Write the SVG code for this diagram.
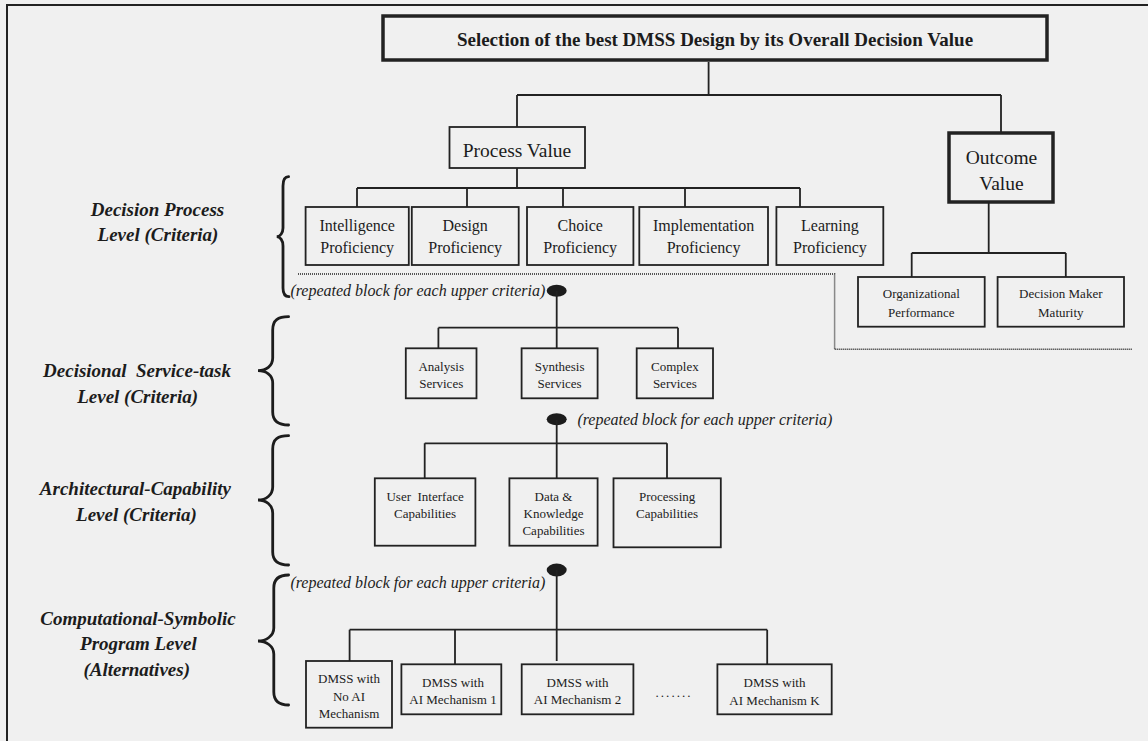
<svg xmlns="http://www.w3.org/2000/svg" width="1148" height="741" viewBox="0 0 1148 741">
  <style>
    .bg { fill: #f0f0f0; }
    .frame { fill: none; stroke: #222; stroke-width: 2; }
    .box { fill: none; stroke: #222; stroke-width: 1.8; }
    .heavy { fill: none; stroke: #222; stroke-width: 3.5; }
    .conn { fill: none; stroke: #222; stroke-width: 1.8; }
    .dots { fill: none; stroke: #222; stroke-width: 1.5; stroke-dasharray: 1 1; }
    .brace { fill: none; stroke: #1c1c1c; stroke-width: 2.8; stroke-linecap: round; }
    .dot { fill: #1c1c1c; }
    text { font-family: "Liberation Serif", "Times New Roman", serif; fill: #1c1c1c; text-anchor: middle; }
    .title { font-size: 19px; font-weight: bold; }
    .big { font-size: 19.5px; }
    .mid { font-size: 16px; }
    .small { font-size: 13px; }
    .level { font-size: 19px; font-weight: bold; font-style: italic; }
    .note { font-size: 16px; font-style: italic; text-anchor: start; }
  </style>

  <rect class="bg" x="0" y="0" width="1148" height="741"/>
  <path class="frame" d="M6,5 H1148 M7,5 V741"/>

  <!-- connectors -->
  <g id="connectors">
    <!-- goal to process / outcome value -->
    <path class="conn" d="M708.6,62 V95 M517,95 H1001 M517,95 V127 M1001,95 V133"/>
    <!-- process value to the five proficiencies -->
    <path class="conn" d="M517,168 V188 M357,188 H800 M357,188 V207 M467,188 V207 M563,188 V207 M685,188 V207 M800,188 V207"/>
    <!-- outcome value to its two criteria -->
    <path class="conn" d="M988.7,202 V253 M911.7,253 H1065.8 M911.7,253 V277 M1065.8,253 V277"/>
    <!-- dotted separator around the process block -->
    <path class="dots" d="M298,274 H834.6 V349.3 H1132"/>
    <!-- service-task level -->
    <ellipse class="dot" cx="556.7" cy="290.7" rx="10" ry="6"/>
    <path class="conn" d="M556.7,291 V348 M438.4,327.7 H678 M438.4,327.7 V348 M678,327.7 V348"/>
    <!-- architectural-capability level -->
    <ellipse class="dot" cx="556.7" cy="419.3" rx="10" ry="6"/>
    <path class="conn" d="M556.7,420 V478 M424.7,443.3 H667 M424.7,443.3 V478 M667,443.3 V478"/>
    <!-- program level -->
    <ellipse class="dot" cx="556.7" cy="570" rx="10" ry="6.5"/>
    <path class="conn" d="M556.7,570 V661 M349.6,629.7 H767.2 M349.6,629.7 V661 M455,629.7 V664.3 M767.2,629.7 V664.3"/>
  </g>

  <!-- level braces -->
  <g id="braces">
    <path class="brace" d="M288.6,176.7 C285,176.7 283,180 283,186 L283,228 C283,233 280,236.7 276.7,236.7 C280,236.7 283,240 283,246 L283,288 C283,294 285,296.7 289,296.7"/>
    <path class="brace" d="M288.6,316.7 C278,316.7 272.7,320 272.7,330 L272.7,358 C272.7,366 266,370.7 258,370.7 C266,370.7 272.7,375 272.7,383 L272.7,412 C272.7,421 278,425 288.6,425"/>
    <path class="brace" d="M288.6,435.7 C278,435.7 272.7,439 272.7,449 L272.7,487 C272.7,495 266,500 258,500 C266,500 272.7,505 272.7,513 L272.7,552 C272.7,561 278,565 288.6,565"/>
    <path class="brace" d="M288.6,575 C279,575 273.8,579 273.8,588 L273.8,628 C273.8,636 266,641 258,641 C266,641 273.8,646 273.8,654 L273.8,692 C273.8,701 279,705 288.6,705"/>
  </g>

  <!-- level labels -->
  <g id="level-labels">
    <text class="level" x="157.5" y="216">Decision Process</text>
    <text class="level" x="158" y="241">Level (Criteria)</text>
    <text class="level" x="137" y="377" xml:space="preserve">Decisional  Service-task</text>
    <text class="level" x="137.6" y="403">Level (Criteria)</text>
    <text class="level" x="135.4" y="495">Architectural-Capability</text>
    <text class="level" x="136.5" y="520.5">Level (Criteria)</text>
    <text class="level" x="138" y="625">Computational-Symbolic</text>
    <text class="level" x="138.4" y="650">Program Level</text>
    <text class="level" x="136.7" y="676">(Alternatives)</text>
  </g>

  <g id="notes">
    <text class="note" x="290.4" y="296">(repeated block for each upper criteria)</text>
    <text class="note" x="577.4" y="425">(repeated block for each upper criteria)</text>
    <text class="note" x="290.4" y="588">(repeated block for each upper criteria)</text>
  </g>

  <!-- goal -->
  <g id="goal">
    <rect class="heavy" x="383" y="16" width="664" height="44"/>
    <text class="title" x="715" y="46">Selection of the best DMSS Design by its Overall Decision Value</text>
  </g>

  <g id="process-value">
    <rect class="box" x="449.5" y="127" width="135.5" height="41"/>
    <text class="big" x="517" y="157">Process Value</text>
  </g>

  <g id="outcome-value">
    <rect class="heavy" x="949" y="133" width="104" height="69"/>
    <text class="big" x="1001.5" y="164">Outcome</text>
    <text class="big" x="1001.5" y="190">Value</text>
  </g>

  <!-- decision process criteria -->
  <g id="intelligence">
    <rect class="box" x="305.6" y="207" width="103.2" height="58"/>
    <text class="mid" x="357.2" y="231">Intelligence</text>
    <text class="mid" x="357.2" y="253">Proficiency</text>
  </g>
  <g id="design">
    <rect class="box" x="411.8" y="207" width="106.9" height="58"/>
    <text class="mid" x="465.2" y="231">Design</text>
    <text class="mid" x="465.2" y="253">Proficiency</text>
  </g>
  <g id="choice">
    <rect class="box" x="527" y="207" width="106.4" height="58"/>
    <text class="mid" x="580.2" y="231">Choice</text>
    <text class="mid" x="580.2" y="253">Proficiency</text>
  </g>
  <g id="implementation">
    <rect class="box" x="639.3" y="207" width="128.7" height="58"/>
    <text class="mid" x="703.6" y="231">Implementation</text>
    <text class="mid" x="703.6" y="253">Proficiency</text>
  </g>
  <g id="learning">
    <rect class="box" x="776.4" y="207" width="106.9" height="58"/>
    <text class="mid" x="829.9" y="231">Learning</text>
    <text class="mid" x="829.9" y="253">Proficiency</text>
  </g>

  <!-- outcome criteria -->
  <g id="organizational">
    <rect class="box" x="858" y="277" width="126.7" height="49.7"/>
    <text class="small" x="921.3" y="298">Organizational</text>
    <text class="small" x="921.3" y="317">Performance</text>
  </g>
  <g id="maker-maturity">
    <rect class="box" x="997.6" y="277" width="126.4" height="49.7"/>
    <text class="small" x="1060.8" y="298">Decision Maker</text>
    <text class="small" x="1060.8" y="317">Maturity</text>
  </g>

  <!-- service-task criteria -->
  <g id="analysis">
    <rect class="box" x="405.8" y="348.3" width="70.7" height="50"/>
    <text class="small" x="441.2" y="371">Analysis</text>
    <text class="small" x="441.2" y="388">Services</text>
  </g>
  <g id="synthesis">
    <rect class="box" x="521.6" y="348.3" width="76" height="50"/>
    <text class="small" x="559.6" y="371">Synthesis</text>
    <text class="small" x="559.6" y="388">Services</text>
  </g>
  <g id="complex">
    <rect class="box" x="636.7" y="348.3" width="76.3" height="50"/>
    <text class="small" x="674.9" y="371">Complex</text>
    <text class="small" x="674.9" y="388">Services</text>
  </g>

  <!-- capability criteria -->
  <g id="user-interface">
    <rect class="box" x="374.8" y="478.3" width="100.6" height="67.4"/>
    <text class="small" x="425.1" y="501" xml:space="preserve">User  Interface</text>
    <text class="small" x="425.1" y="518">Capabilities</text>
  </g>
  <g id="data-knowledge">
    <rect class="box" x="509.4" y="478.3" width="88.2" height="67.4"/>
    <text class="small" x="553.5" y="501">Data &amp;</text>
    <text class="small" x="553.5" y="518">Knowledge</text>
    <text class="small" x="553.5" y="535">Capabilities</text>
  </g>
  <g id="processing">
    <rect class="box" x="613.5" y="478.3" width="107.3" height="69"/>
    <text class="small" x="667.1" y="501">Processing</text>
    <text class="small" x="667.1" y="518">Capabilities</text>
  </g>

  <!-- alternatives -->
  <g id="no-ai">
    <rect class="box" x="306" y="661" width="86" height="66.7"/>
    <text class="small" x="349" y="683">DMSS with</text>
    <text class="small" x="349" y="701">No AI</text>
    <text class="small" x="349" y="718">Mechanism</text>
  </g>
  <g id="ai-1">
    <rect class="box" x="401.4" y="664.3" width="99.9" height="50"/>
    <text class="small" x="453" y="687">DMSS with</text>
    <text class="small" x="453" y="704">AI Mechanism 1</text>
  </g>
  <g id="ai-2">
    <rect class="box" x="521.7" y="664.3" width="111.7" height="50"/>
    <text class="small" x="577.5" y="687">DMSS with</text>
    <text class="small" x="577.5" y="704">AI Mechanism 2</text>
  </g>
  <text class="small" x="673" y="697" textLength="35">.......</text>
  <g id="ai-k">
    <rect class="box" x="717.4" y="664.3" width="114.3" height="50"/>
    <text class="small" x="774.5" y="687">DMSS with</text>
    <text class="small" x="774.5" y="705">AI Mechanism K</text>
  </g>
</svg>
